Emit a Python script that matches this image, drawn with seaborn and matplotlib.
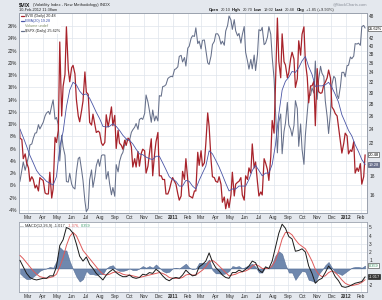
import numpy as np
import pandas as pd
import matplotlib
matplotlib.use("Agg")
import matplotlib.pyplot as plt
import matplotlib.dates as mdates
from matplotlib.ticker import FixedLocator, NullLocator, FuncFormatter
from matplotlib.lines import Line2D
import seaborn as sns

sns.set_theme(style="white")
plt.rcParams['font.family'] = ['Liberation Sans', 'DejaVu Sans']
plt.rcParams['axes.unicode_minus'] = False

# ---------------- data ----------------
tue_dates = pd.date_range('2010-02-09', '2012-02-07', freq='W-TUE')
fri_dates = pd.date_range('2010-02-12', '2012-02-10', freq='W-FRI')
half_week_dates = tue_dates.append(fri_dates).sort_values()

# $VIX daily closes sampled twice a week (Tue, Fri)
vix = [
    26.6, 22.7, 22.5, 20.0, 20.6, 19.5, 18.9, 17.4, 17.9, 17.6,
    16.7, 17.0, 16.4, 17.8, 17.6, 17.5, 16.2, 16.1, 16.1, 18.4,
    15.7, 16.6, 22.8, 22.1, 23.8, 41.0, 26.0, 31.2, 33.6, 45.0,
    34.6, 32.1, 35.0, 35.5, 33.7, 28.8, 26.0, 25.1, 26.9, 28.5,
    34.1, 30.1, 29.7, 25.0, 24.6, 26.3, 24.7, 23.5, 23.7, 23.5,
    22.0, 21.7, 22.1, 26.2, 24.3, 25.5, 27.5, 24.5, 26.1, 21.3,
    23.8, 22.0, 21.7, 21.2, 22.4, 21.7, 22.7, 22.5, 21.5, 19.0,
    20.0, 19.0, 20.9, 19.1, 20.7, 21.2, 21.0, 18.3, 19.1, 20.6,
    22.6, 18.0, 20.6, 22.2, 23.5, 18.0, 18.0, 17.6, 17.6, 16.1,
    16.1, 16.5, 17.3, 17.8,
    17.4, 17.1, 16.1, 15.5, 15.9, 18.5, 17.6, 20.0, 17.6, 15.9,
    15.8, 15.7, 16.4, 16.4, 20.8, 19.2, 21.0, 19.1, 19.5, 21.9,
    26.5, 24.4, 19.9, 17.9, 17.8, 17.4, 17.3, 17.9, 17.1, 15.3,
    15.8, 14.7, 15.6, 14.8, 16.0, 18.4, 15.9, 17.1, 17.3, 17.4,
    17.8, 16.0, 15.5, 18.0, 17.6, 18.9, 18.3, 21.9, 18.9, 19.6,
    17.3, 15.9, 16.3, 16.0, 20.0, 19.5, 18.7, 17.5, 20.2, 25.3,
    23.4, 32.0, 47.5, 36.4, 32.9, 43.1, 36.3, 35.6, 32.9, 33.9,
    37.0, 38.5, 36.9, 31.0, 32.7, 41.3, 37.8, 43.0, 45.0, 36.3,
    33.0, 28.2, 31.3, 31.3, 32.2, 24.5, 34.8, 30.2, 29.9, 30.0,
    31.5, 32.0, 32.9, 34.5, 32.8, 27.5, 27.0, 26.4, 26.0, 24.3,
    22.2, 20.7, 22.0, 23.4,
    23.0, 20.6, 21.1, 20.9, 22.2, 18.3, 18.9, 18.5, 19.4, 17.1,
    17.9, 20.48,
]

# $SPX closes sampled twice a week (Tue, Fri)
spx = [
    1070.5, 1075.5, 1094.9, 1109.2, 1094.6, 1104.5, 1118.3, 1138.7, 1140.5, 1150.0,
    1159.5, 1159.9, 1174.2, 1166.6, 1173.3, 1178.1, 1189.4, 1194.4, 1197.3, 1192.1,
    1207.2, 1217.3, 1183.7, 1186.7, 1173.6, 1110.9, 1155.8, 1135.7, 1120.8, 1075.0,
    1074.0, 1089.4, 1070.7, 1064.9, 1062.0, 1091.6, 1115.2, 1117.5, 1095.3, 1076.8,
    1041.2, 1022.6, 1028.1, 1078.0, 1095.3, 1064.9, 1083.5, 1102.7, 1113.8, 1101.6,
    1120.5, 1121.6, 1121.1, 1079.3, 1092.5, 1071.7, 1051.9, 1064.6, 1049.3, 1104.5,
    1091.8, 1109.6, 1121.1, 1125.6, 1139.8, 1148.7, 1147.7, 1146.2, 1160.8, 1165.2,
    1169.8, 1176.2, 1165.9, 1183.1, 1185.6, 1183.3, 1193.6, 1225.9, 1213.4, 1199.2,
    1178.3, 1199.7, 1180.7, 1189.4, 1180.6, 1224.7, 1223.8, 1240.4, 1241.6, 1243.9,
    1254.6, 1256.8, 1258.5, 1257.6,
    1270.2, 1271.5, 1275.0, 1293.2, 1295.0, 1283.4, 1291.2, 1276.3, 1307.6, 1310.9,
    1324.6, 1329.2, 1328.0, 1343.0, 1315.4, 1319.9, 1306.3, 1321.2, 1321.8, 1304.3,
    1281.9, 1279.2, 1293.8, 1313.8, 1319.4, 1332.4, 1332.6, 1328.2, 1314.4, 1319.7,
    1312.6, 1337.4, 1347.2, 1363.6, 1356.6, 1340.2, 1357.2, 1337.8, 1329.0, 1333.3,
    1316.3, 1331.1, 1345.2, 1300.2, 1284.9, 1271.0, 1287.9, 1271.5, 1295.5, 1268.5,
    1296.7, 1339.7, 1337.9, 1343.8, 1313.6, 1316.1, 1326.7, 1345.0, 1331.9, 1292.3,
    1254.1, 1199.4, 1125.0, 1178.8, 1192.8, 1123.5, 1162.4, 1176.8, 1212.9, 1174.0,
    1165.9, 1154.2, 1172.9, 1216.0, 1202.1, 1136.4, 1175.4, 1131.4, 1105.0, 1155.5,
    1195.5, 1224.6, 1225.4, 1238.3, 1229.1, 1285.1, 1218.3, 1253.2, 1275.9, 1263.9,
    1257.8, 1215.7, 1188.0, 1158.7, 1195.2, 1244.3, 1258.5, 1255.2, 1225.7, 1219.7,
    1241.3, 1265.3, 1265.4, 1257.6,
    1277.1, 1277.8, 1292.1, 1289.1, 1293.7, 1315.4, 1314.7, 1316.3, 1312.4, 1344.9,
    1347.1, 1342.6,
]
spx_base = 1068.13          # $SPX close on the first day of the chart
spx_perf_last = 25.62       # legend value

# EMA(20) of $VIX, weekly (Fridays)
ema20 = [
    24.0, 22.8, 21.6, 20.4, 19.5, 18.6, 18.1, 17.8, 17.4, 17.2,
    17.0, 17.9, 21.5, 23.6, 27.5, 30.5, 32.0, 31.5, 30.3, 29.6,
    29.8, 29.0, 27.8, 26.6, 25.6, 24.4, 24.3, 24.4, 24.8, 24.4,
    23.8, 23.1, 22.6, 22.4, 21.9, 21.2, 20.6, 20.5, 20.2, 20.0,
    19.9, 20.3, 20.3, 19.5, 18.7, 17.9, 17.6,
    17.4, 16.9, 16.9, 17.5, 17.4, 16.9, 16.6, 17.5, 18.3, 19.1,
    21.0, 20.6, 19.8, 19.0, 18.1, 17.2, 16.4, 16.6, 16.6, 16.9,
    16.9, 16.9, 17.6, 18.6, 19.2, 18.6, 18.0, 18.3, 18.3, 19.3,
    21.8, 26.3, 30.5, 32.2, 33.0, 34.2, 34.0, 35.0, 36.5, 37.5,
    35.2, 33.6, 31.2, 31.3, 31.3, 31.5, 32.0, 31.0, 29.7, 28.3,
    26.2, 25.0,
    23.8, 23.0, 21.8, 20.9, 19.9, 19.28,
]

# MACD(12,26,9) panel, weekly (Fridays)
macd = [
    1.0, 0.2, -0.6, -1.1, -1.3, -1.4, -1.3, -1.2, -1.2, -0.9,
    -0.9, 0.2, 2.8, 3.5, 5.0, 4.8, 4.3, 3.0, 1.5, 0.9,
    1.4, 0.5, 0.0, -0.6, -1.0, -1.4, -0.8, -0.4, -0.1, -0.5,
    -0.8, -1.0, -1.0, -0.8, -1.1, -1.2, -1.1, -0.7, -0.8, -0.5,
    -0.6, -0.1, -0.4, -0.9, -1.3, -1.5, -1.2,
    -1.1, -1.2, -0.8, -0.2, -0.6, -0.9, -0.8, 0.2, 0.5, 0.9,
    1.9, 0.8, 0.1, -0.3, -0.8, -1.1, -1.2, -0.5, -0.5, -0.2,
    -0.4, -0.1, 0.3, 0.9, 0.7, -0.2, -0.5, 0.2, 0.0, 0.9,
    2.6, 4.3, 5.4, 4.9, 3.9, 3.6, 2.1, 2.2, 2.4, 2.0,
    0.3, -0.6, -1.8, -1.4, -1.2, -0.5, 0.3, -0.2, -1.0, -1.5,
    -2.2, -2.3,
    -2.2, -2.0, -1.8, -1.7, -1.6, -1.017,
]
signal = [
    1.6, 1.2, 0.7, 0.2, -0.3, -0.7, -1.0, -1.1, -1.2, -1.1,
    -1.0, -0.7, 0.2, 1.3, 2.8, 3.9, 4.4, 4.0, 3.1, 2.2,
    1.7, 1.2, 0.7, 0.2, -0.3, -0.7, -0.8, -0.7, -0.5, -0.4,
    -0.5, -0.7, -0.8, -0.8, -0.9, -1.0, -1.1, -1.0, -0.9, -0.8,
    -0.7, -0.6, -0.5, -0.6, -0.8, -1.1, -1.2,
    -1.2, -1.2, -1.1, -0.8, -0.7, -0.8, -0.8, -0.5, -0.2, 0.2,
    0.8, 1.0, 0.7, 0.3, -0.1, -0.5, -0.9, -0.8, -0.7, -0.5,
    -0.4, -0.3, -0.1, 0.3, 0.5, 0.3, 0.0, 0.0, 0.0, 0.3,
    1.0, 2.2, 3.6, 4.4, 4.4, 4.1, 3.5, 3.0, 2.7, 2.4,
    1.7, 0.9, -0.1, -0.7, -1.0, -0.9, -0.5, -0.3, -0.5, -0.9,
    -1.4, -1.8,
    -2.0, -2.1, -2.0, -1.9, -1.7, -1.376,
]
histogram = [
    -0.6, -1.0, -1.3, -1.3, -1.0, -0.7, -0.3, -0.1, 0.0, 0.2,
    0.1, 0.9, 2.6, 2.2, 2.2, 0.9, -0.1, -1.0, -1.6, -1.3,
    -0.3, -0.7, -0.7, -0.8, -0.7, -0.7, 0.0, 0.3, 0.4, -0.1,
    -0.3, -0.3, -0.2, 0.0, -0.2, -0.2, 0.0, 0.3, 0.1, 0.3,
    0.1, 0.5, 0.1, -0.3, -0.5, -0.4, 0.0,
    0.1, 0.0, 0.3, 0.6, 0.1, -0.1, 0.0, 0.7, 0.7, 0.7,
    1.1, -0.2, -0.6, -0.6, -0.7, -0.6, -0.3, 0.3, 0.2, 0.3,
    0.0, 0.2, 0.4, 0.6, 0.2, -0.5, -0.5, 0.2, 0.0, 0.6,
    1.6, 2.1, 1.8, 0.5, -0.5, -0.5, -1.4, -0.8, -0.3, -0.4,
    -1.4, -1.5, -1.7, -0.7, -0.2, 0.4, 0.8, 0.1, -0.5, -0.6,
    -0.8, -0.5,
    -0.2, 0.1, 0.2, 0.2, 0.1, 0.359,
]

assert len(vix) == len(half_week_dates) == len(spx)
assert len(ema20) == len(macd) == len(signal) == len(histogram) == len(fri_dates)

vix_ticks = [16, 18, 20, 22, 24, 26, 28, 30, 32, 34, 36, 38, 40, 42, 44, 46, 48]
vix_hidden = {20, 44, 46}          # labels covered by last-value boxes
pct_ticks = list(range(-4, 27, 2))
macd_ticks = [-2, -1, 0, 1, 2, 3, 4, 5]
macd_hidden = {-1, 0}
month_starts = pd.date_range('2010-03-01', '2012-02-01', freq='MS')
month_labels = [d.strftime('%Y') if d.month == 1 else d.strftime('%b') for d in month_starts]

spx_pct = (np.array(spx) / spx_base - 1.0) * 100.0
daily = pd.DataFrame({'date': half_week_dates, 'vix': vix, 'spx_pct': spx_pct})
weekly = pd.DataFrame({'date': fri_dates, 'ema': ema20, 'macd': macd,
                       'signal': signal, 'hist': histogram})

# ---------------- styling ----------------
C_VIX = '#a8232b'
C_EMA = '#4a56a6'
C_SPX = '#66708a'
C_GRID = '#dfe4ec'
C_EDGE = '#9aa1ad'
C_TXT = '#2a2a2a'
C_SIG = '#de5a5a'
BG = '#e4e8ee'

W, H = 382, 300
fig = plt.figure(figsize=(W / 100, H / 100), dpi=100, facecolor=BG)

def fx(px):
    return px / W

def fy(py):
    return 1 - py / H

ax = fig.add_axes([fx(19), fy(213), fx(348), 200 / H])
axr = ax.twinx()
axm = fig.add_axes([fx(19), fy(292), fx(348), 70 / H])

xlim = (pd.Timestamp('2010-02-10'), pd.Timestamp('2012-02-14'))

# main panel: SPX % (left), VIX + EMA (right, log)
sns.lineplot(data=daily, x='date', y='spx_pct', ax=ax, color=C_SPX, lw=0.75)
sns.lineplot(data=daily, x='date', y='vix', ax=axr, color=C_VIX, lw=0.9)
sns.lineplot(data=weekly, x='date', y='ema', ax=axr, color=C_EMA, lw=0.6)

ax.set_facecolor('white')
ax.set_xlim(*xlim)
ax.set_ylim(-4.49, 28.15)
axr.set_yscale('log')
axr.set_ylim(14.32, 49.0)

ax.set_yticks(pct_ticks)
ax.set_yticklabels([f'{v}%' for v in pct_ticks])
axr.yaxis.set_major_locator(FixedLocator(vix_ticks))
axr.yaxis.set_minor_locator(NullLocator())
axr.yaxis.set_major_formatter(FuncFormatter(
    lambda v, p: '' if round(v) in vix_hidden else f'{v:.0f}'))

for a in (ax, axm):
    a.set_xlim(*xlim)
    a.set_xticks(month_starts)
    a.set_xticklabels(month_labels)
    for lbl in a.get_xticklabels():
        if lbl.get_text().startswith('20'):
            lbl.set_fontweight('bold')
    a.grid(True, color=C_GRID, lw=0.5)
    a.set_xlabel('')
    a.set_ylabel('')

axr.set_ylabel('')
axr.set_xlabel('')
for a in (ax, axr, axm):
    a.tick_params(axis='both', length=0, labelsize=3.4, pad=1.5, colors=C_TXT)
    for s in a.spines.values():
        s.set_color(C_EDGE)
        s.set_linewidth(0.6)

# MACD panel
axm.set_facecolor('white')
axm.fill_between(weekly['date'], 0, weekly['hist'], color='#5673a0', alpha=0.85,
                 lw=0.3, edgecolor='#3f5a85', zorder=2)
sns.lineplot(data=weekly, x='date', y='signal', ax=axm, color=C_SIG, lw=0.7, zorder=3)
sns.lineplot(data=weekly, x='date', y='macd', ax=axm, color='#1a1a1a', lw=0.7, zorder=4)
axm.set_ylim(-2.87, 5.67)
axm.set_yticks(macd_ticks)
axm.yaxis.tick_right()
axm.yaxis.set_major_formatter(FuncFormatter(
    lambda v, p: '' if round(v) in macd_hidden else f'{v:.0f}'))
axm.set_xlabel('')
axm.set_ylabel('')

# legend (main)
handles = [Line2D([], [], color=C_VIX, lw=0.9),
           Line2D([], [], color=C_EMA, lw=0.9),
           Line2D([], [], color='none', lw=0.9),
           Line2D([], [], color=C_SPX, lw=0.9)]
labels = [f'$VIX (Daily) {vix[-1]:.2f}', f'EMA(20) {ema20[-1]:.2f}',
          'Volume undef', f'$SPX (Daily) {spx_perf_last:.2f}%']
leg = axr.legend(handles, labels, loc='upper left', fontsize=2.7, handlelength=0.8,
                 handletextpad=0.3, borderpad=0.25, labelspacing=0.25,
                 frameon=True, framealpha=0.95, borderaxespad=0.15, fancybox=False)
leg.get_frame().set_edgecolor('none')
for t, c in zip(leg.get_texts(), ['#222222', '#3a4fa8', '#7d8c66', '#222222']):
    t.set_color(c)

# last-value boxes on the right axes
tr_r = axr.get_yaxis_transform()
axr.text(1.004, vix[-1], f'{vix[-1]:.2f}', transform=tr_r, fontsize=3.0, va='center',
         ha='left', color='black', clip_on=False,
         bbox=dict(boxstyle='square,pad=0.15', fc='white', ec='#333333', lw=0.4))
axr.text(1.004, ema20[-1], f'{ema20[-1]:.2f}', transform=tr_r, fontsize=3.0, va='center',
         ha='left', color='white', clip_on=False,
         bbox=dict(boxstyle='square,pad=0.15', fc='#6c7390', ec='#444a60', lw=0.4))
ax.text(1.004, spx_perf_last, f'{spx_perf_last:.2f}%', transform=ax.get_yaxis_transform(),
        fontsize=2.8, va='center', ha='left', color='black', clip_on=False, zorder=10,
        bbox=dict(boxstyle='square,pad=0.15', fc='white', ec='#333333', lw=0.4))
tr_m = axm.get_yaxis_transform()
axm.text(1.004, histogram[-1], f'{histogram[-1]:.3f}', transform=tr_m, fontsize=2.8,
         va='center', ha='left', color='#2e8b57', clip_on=False,
         bbox=dict(boxstyle='square,pad=0.15', fc='white', ec='#333333', lw=0.4))
axm.text(1.004, macd[-1], f'{macd[-1]:.3f}', transform=tr_m, fontsize=2.8,
         va='center', ha='left', color='white', clip_on=False,
         bbox=dict(boxstyle='square,pad=0.15', fc='#333333', ec='#111', lw=0.4))

# header
fig.text(fx(19), fy(5), '$VIX', fontsize=3.8, fontweight='bold', color='#111',
         va='center', ha='left')
fig.text(fx(33), fy(5), '(Volatility Index - New Methodology) INDX', fontsize=3.0,
         color='#222', va='center', ha='left')
fig.text(fx(19), fy(10), '10-Feb-2012 11:38am', fontsize=2.8, color='#222',
         va='center', ha='left')
fig.text(fx(367), fy(4), '@StockCharts.com', fontsize=2.9, color='#8a8f99',
         va='center', ha='right')

fig.canvas.draw()
renderer = fig.canvas.get_renderer()

def text_run(x_px, y_px, parts, size):
    x = x_px
    for txt, col, bold in parts:
        t = fig.text(fx(x), fy(y_px), txt, fontsize=size, color=col,
                     fontweight='bold' if bold else 'normal', va='center', ha='left')
        bb = t.get_window_extent(renderer=renderer)
        x = bb.x1 + 1.6

text_run(209, 10, [('Open', '#111', True), ('20.10', '#333', False),
                   ('High', '#111', True), ('20.70', '#333', False),
                   ('Low', '#111', True), ('19.02', '#333', False),
                   ('Last', '#111', True), ('20.48', '#333', False),
                   ('Chg', '#111', True), ('+1.85 (+9.93%)', '#333', False)], 2.9)

# MACD legend text
text_run(20, 226, [('\u2014 MACD(12,26,9) ' + f'{macd[-1]:.3f},', C_TXT, False),
                   (f'{signal[-1]:.3f},', C_SIG, False),
                   (f'{histogram[-1]:.3f}', '#3a9a6a', False)], 2.8)

fig.savefig('out.png', dpi=100, facecolor=BG)
